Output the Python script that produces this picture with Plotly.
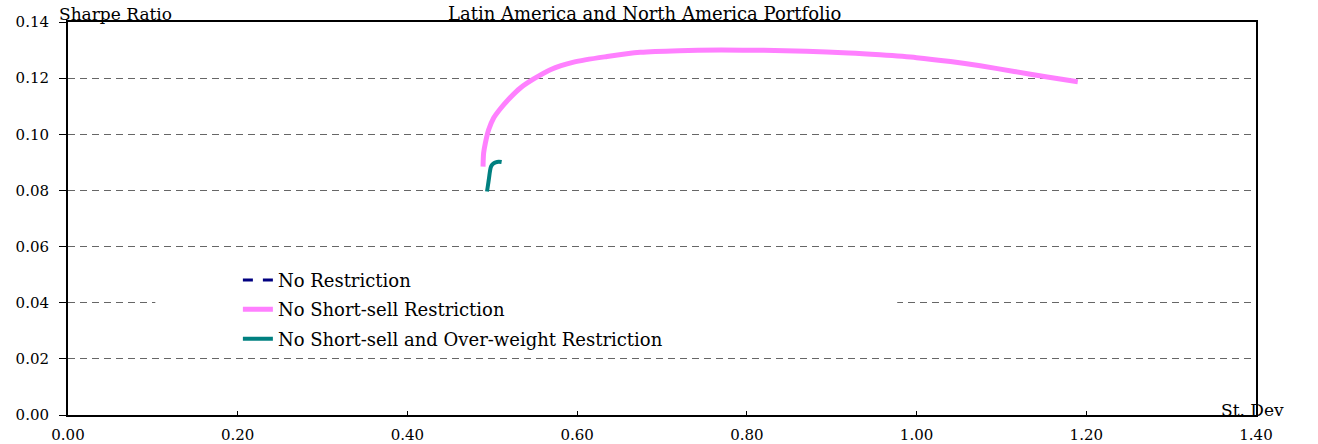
import plotly.graph_objects as go

# St. Dev (x) and Sharpe ratio (y)
no_restr_x = [None]
no_restr_y = [None]

no_short_x = [0.4891, 0.4898, 0.4918, 0.4957, 0.5016, 0.5095, 0.5193, 0.5331, 0.5488, 0.5684,
              0.5959, 0.6353, 0.6745, 0.72, 0.77, 0.82, 0.87, 0.92, 0.957, 1.00, 1.04, 1.075,
              1.115, 1.154, 1.19]
no_short_y = [0.0885, 0.0933, 0.0968, 0.1016, 0.1058, 0.1091, 0.1125, 0.1165, 0.1197, 0.1230,
              0.1257, 0.1277, 0.1292, 0.1298, 0.1300, 0.1299, 0.1296, 0.1290, 0.1283, 0.1273,
              0.1259, 0.1244, 0.1224, 0.1204, 0.1187]

no_short_ow_x = [0.4938, 0.4950, 0.4962, 0.4972, 0.4985, 0.5010, 0.5040, 0.5075, 0.5110]
no_short_ow_y = [0.0796, 0.0820, 0.0845, 0.0867, 0.0885, 0.0895, 0.0900, 0.0902, 0.0901]

x_ticks = [0.0, 0.2, 0.4, 0.6, 0.8, 1.0, 1.2, 1.4]
y_ticks = [0.0, 0.02, 0.04, 0.06, 0.08, 0.10, 0.12, 0.14]

FONT = "DejaVu Serif"

fig = go.Figure()
fig.add_trace(go.Scatter(x=no_restr_x, y=no_restr_y, mode="lines", name="No Restriction",
                         legendgroup="a",
                         line=dict(color="#000080", width=3, dash="10px,10px")))
fig.add_trace(go.Scatter(x=no_short_x, y=no_short_y, mode="lines", name="No Short-sell Restriction",
                         legendgroup="b",
                         line=dict(color="#FF80FF", width=5, shape="spline", smoothing=0.8)))
fig.add_trace(go.Scatter(x=no_short_ow_x, y=no_short_ow_y, mode="lines",
                         name="No Short-sell and Over-weight Restriction",
                         legendgroup="c",
                         line=dict(color="#008080", width=4, shape="spline")))

# white patch behind the legend that cuts the 0.04 gridline (no data in that area)
fig.add_shape(type="rect", xref="paper", yref="paper", x0=0.0735, x1=0.698, y0=0.17, y1=0.39,
              fillcolor="white", line_width=0, layer="above")

fig.update_xaxes(range=[0, 1.4], tickvals=x_ticks, tickformat=".2f", automargin=False,
                 showline=True, linecolor="black", linewidth=2, mirror=True,
                 ticks="inside", ticklen=4, tickcolor="black", showgrid=False, zeroline=False,
                 ticklabelstandoff=5)
fig.update_yaxes(range=[0, 0.14], tickvals=y_ticks, tickformat=".2f", automargin=False,
                 showline=True, linecolor="black", linewidth=2, mirror=True,
                 ticks="outside", ticklen=7, tickcolor="black",
                 showgrid=True, gridcolor="#666666", gridwidth=1, griddash="7px,5px",
                 zeroline=False, ticklabelstandoff=7)

fig.add_annotation(text="Sharpe Ratio", x=-0.009, y=1, xref="paper", yref="paper",
                   xanchor="left", yanchor="bottom", yshift=-4, showarrow=False,
                   font=dict(family=FONT, size=17, color="black"))
fig.add_annotation(text="Latin America and North America Portfolio", x=0.485, y=1,
                   xref="paper", yref="paper", xanchor="center", yanchor="bottom", yshift=-4,
                   showarrow=False, font=dict(family=FONT, size=18, color="black"))
fig.add_annotation(text="St. Dev", x=0.969, y=0, xref="paper", yref="paper",
                   xanchor="left", yanchor="middle", yshift=5, showarrow=False,
                   font=dict(family=FONT, size=17, color="black"))

fig.update_layout(
    width=1318, height=444,
    margin=dict(l=68, r=62, t=22, b=29, autoexpand=False),
    paper_bgcolor="white", plot_bgcolor="white",
    font=dict(family=FONT, size=15, color="black"),
    showlegend=True,
    legend=dict(x=0.143, y=0.39, xanchor="left", yanchor="top",
                bgcolor="rgba(0,0,0,0)", font=dict(family=FONT, size=18, color="black"),
                tracegroupgap=3, traceorder="grouped"),
)

# drop the default page margin so the figure sits at the window's corner
fig.write_html("out.html", config={"displayModeBar": False},
               post_script="document.body.style.margin='0';")
